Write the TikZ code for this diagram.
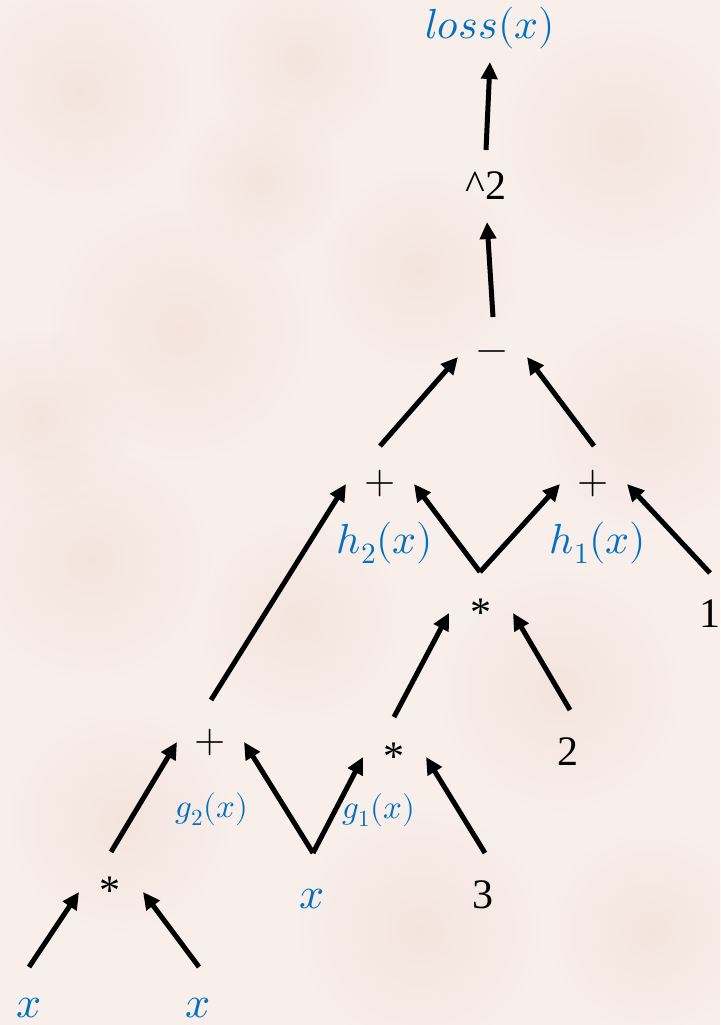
\documentclass[tikz,border=0pt]{standalone}
\usepackage{fontspec}
\usepackage{unicode-math}
\setmainfont{Liberation Serif}
\setmathfont{Latin Modern Math}
\usetikzlibrary{arrows.meta,fadings}
\definecolor{bg}{HTML}{F8EEEA}
\definecolor{patch}{HTML}{EFD9CE}
\definecolor{mblue}{HTML}{0070C0}
\tikzfading[name=fuzzy, inner color=transparent!55, outer color=transparent!100]
\tikzset{
  arr/.style={line width=5pt, -{Triangle[length=17pt,width=16pt]}},
  blk/.style={inner sep=0pt, anchor=base, font=\fontsize{42}{50}\selectfont},
  opr/.style={inner sep=0pt, anchor=center, font=\fontsize{40}{48}\selectfont},
  bl/.style={inner sep=0pt, anchor=base, text=mblue}
}
\begin{document}
\begin{tikzpicture}[x=1pt,y=-1pt]
\useasboundingbox (0,0) rectangle (720,1025);
\fill[bg] (0,0) rectangle (720,1025);
% soft background texture
\foreach \px/\py/\r in {80/90/110, 300/60/90, 620/140/120, 180/330/130, 420/270/100, 650/420/110,
  90/560/120, 300/620/100, 560/690/120, 120/820/110, 420/930/120, 650/930/100, 260/180/80, 40/420/90}
  \fill[patch, path fading=fuzzy] (\px,\py) circle (\r);
% nodes
\node[bl, font=\fontsize{42}{50}\selectfont] (loss) at (490,39) {$loss(x)$};
\node[blk] (sq) at (486,199) {\textasciicircum 2};
\node[opr] (minus) at (492,356) {$-$};
\node[opr] (pL) at (380,483) {$+$};
\node[opr] (pR) at (593,483) {$+$};
\node[bl, font=\fontsize{42}{50}\selectfont] (h2) at (385,553) {$h_2(x)$};
\node[bl, font=\fontsize{42}{50}\selectfont] (h1) at (598,553) {$h_1(x)$};
\node[blk] (mM) at (481,626) {*};
\node[blk] (one) at (710,627) {1};
\node[blk] (mL) at (394,770) {*};
\node[blk] (two) at (568,765) {2};
\node[opr] (pLL) at (210,742) {$+$};
\node[bl, font=\fontsize{33}{40}\selectfont] (g2) at (212,817) {$g_2(x)$};
\node[bl, font=\fontsize{33}{40}\selectfont] (g1) at (379,818) {$g_1(x)$};
\node[blk] (mB) at (110,904) {*};
\node[bl, font=\fontsize{44}{52}\selectfont] (xm) at (312,908) {$x$};
\node[blk] (three) at (483,908) {3};
\node[bl, font=\fontsize{44}{52}\selectfont] (xa) at (29,1017) {$x$};
\node[bl, font=\fontsize{44}{52}\selectfont] (xb) at (198,1017) {$x$};
% connector end points
\coordinate (sq-out) at (486,150);   \coordinate (loss-in) at (490,62);
\coordinate (minus-out) at (493,317);\coordinate (sq-in) at (487,222);
\coordinate (pL-out) at (380,446);   \coordinate (minus-inL) at (458,357);
\coordinate (pR-out) at (594,446);   \coordinate (minus-inR) at (527,357);
\coordinate (mM-out) at (480,572);   \coordinate (pL-inR) at (414,484);
                                     \coordinate (pR-inL) at (560,484);
\coordinate (one-out) at (710,573);  \coordinate (pR-inR) at (627,484);
\coordinate (pLL-out) at (211,700);  \coordinate (pL-inL) at (346,484);
\coordinate (mL-out) at (394,717);   \coordinate (mM-inL) at (449,613);
\coordinate (two-out) at (570,710);  \coordinate (mM-inR) at (513,613);
\coordinate (xm-out) at (313,853);   \coordinate (pLL-inR) at (244,742);
                                     \coordinate (mL-inL) at (363,757);
\coordinate (three-out) at (485,853);\coordinate (mL-inR) at (426,757);
\coordinate (mB-out) at (111,852);   \coordinate (pLL-inL) at (177,742);
\coordinate (xa-out) at (29,967);    \coordinate (mB-inL) at (79,892);
\coordinate (xb-out) at (199,967);   \coordinate (mB-inR) at (143,892);
% connectors
\draw[arr] (sq-out) -- (loss-in);
\draw[arr] (minus-out) -- (sq-in);
\draw[arr] (pL-out) -- (minus-inL);
\draw[arr] (pR-out) -- (minus-inR);
\draw[arr] (mM-out) -- (pL-inR);
\draw[arr] (mM-out) -- (pR-inL);
\draw[arr] (one-out) -- (pR-inR);
\draw[arr] (pLL-out) -- (pL-inL);
\draw[arr] (mL-out) -- (mM-inL);
\draw[arr] (two-out) -- (mM-inR);
\draw[arr] (xm-out) -- (pLL-inR);
\draw[arr] (xm-out) -- (mL-inL);
\draw[arr] (three-out) -- (mL-inR);
\draw[arr] (mB-out) -- (pLL-inL);
\draw[arr] (xa-out) -- (mB-inL);
\draw[arr] (xb-out) -- (mB-inR);
\end{tikzpicture}
\end{document}
